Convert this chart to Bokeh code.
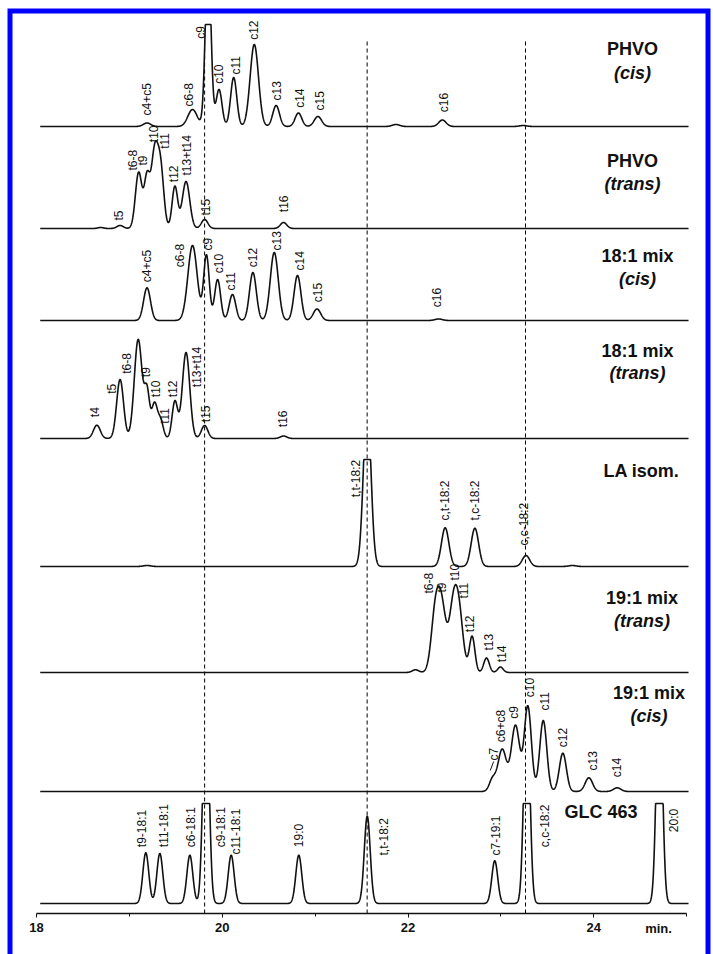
import numpy as np
from bokeh.plotting import figure
from bokeh.models import Range1d, FixedTicker, ColumnDataSource
from bokeh.core.properties import value
from bokeh.embed import file_html
from bokeh.resources import INLINE

# ---------------------------------------------------------------------------
# Retention-time axis (min)
X_TICKS = [18, 20, 22, 24]
X_MINOR = [19, 21, 23, 25]
T_FIRST, T_LAST = 18.04, 25.02

# Peak tables: retention time (min), peak height, peak sd (min)
PHVO_CIS_RT = [19.19, 19.68, 19.848, 19.965, 20.123, 20.345, 20.58, 20.82, 21.03, 21.87, 22.37, 23.24]
PHVO_CIS_H = [3.5, 17, 171, 37, 49, 82, 21, 13.5, 10, 2, 6.5, 1]
PHVO_CIS_SD = [0.04, 0.05, 0.03, 0.032, 0.033, 0.045, 0.036, 0.036, 0.04, 0.04, 0.04, 0.04]

PHVO_TRANS_RT = [18.69, 18.90, 19.10, 19.19, 19.27, 19.335, 19.49, 19.61, 19.81, 20.66]
PHVO_TRANS_H = [1, 3, 56, 50, 72, 60, 42, 47, 9, 6]
PHVO_TRANS_SD = [0.03, 0.035, 0.035, 0.03, 0.035, 0.035, 0.03, 0.04, 0.035, 0.035]

MIX181_CIS_RT = [19.19, 19.68, 19.83, 19.95, 20.11, 20.33, 20.56, 20.81, 21.02, 22.33]
MIX181_CIS_H = [32.7, 75, 65, 41, 26, 48, 68, 45, 11.5, 1.5]
MIX181_CIS_SD = [0.037, 0.05, 0.03, 0.032, 0.035, 0.037, 0.043, 0.037, 0.04, 0.04]

MIX181_TRANS_RT = [18.65, 18.90, 19.095, 19.19, 19.27, 19.335, 19.49, 19.61, 19.81, 20.66]
MIX181_TRANS_H = [13.3, 59, 99, 45, 34, 18, 37, 86, 13, 2.5]
MIX181_TRANS_SD = [0.037, 0.037, 0.042, 0.028, 0.03, 0.03, 0.03, 0.04, 0.035, 0.035]

LA_ISOM_RT = [19.19, 21.56, 22.40, 22.72, 23.27, 23.77]
LA_ISOM_H = [1, 165, 38.7, 38.3, 11, 1]
LA_ISOM_SD = [0.04, 0.04, 0.04, 0.04, 0.04, 0.04]

MIX191_TRANS_RT = [22.08, 22.296, 22.366, 22.486, 22.55, 22.69, 22.845, 22.995]
MIX191_TRANS_H = [2.7, 59.5, 57.4, 59.6, 53, 36, 14.5, 5.5]
MIX191_TRANS_SD = [0.035, 0.045, 0.045, 0.045, 0.045, 0.03, 0.03, 0.03]

MIX191_CIS_RT = [22.91, 23.014, 23.157, 23.29, 23.456, 23.667, 23.947, 24.252]
MIX191_CIS_H = [12, 42, 66, 85, 71, 38.3, 13.7, 3.7]
MIX191_CIS_SD = [0.035, 0.045, 0.045, 0.038, 0.038, 0.038, 0.04, 0.04]

GLC463_RT = [19.177, 19.328, 19.651, 19.825, 20.096, 20.824, 21.561, 22.934, 23.279, 24.706]
GLC463_H = [50.7, 50, 48.3, 220, 48.3, 48.3, 87.3, 42.7, 210, 228]
GLC463_SD = [0.032] * 10

# Peak annotations: text, retention time and height of the label foot
PHVO_CIS_LBL = ["c4+c5", "c6-8", "c9", "c10", "c11", "c12", "c13", "c14", "c15", "c16"]
PHVO_CIS_LBL_T = [19.192, 19.647, 19.766, 19.963, 20.143, 20.347, 20.584, 20.835, 21.05, 22.385]
PHVO_CIS_LBL_Y = [11, 20, 87.7, 42.7, 52, 86.7, 26, 18.7, 16, 14.3]

PHVO_TRANS_LBL = ["t5", "t6-8", "t9", "t10", "t11", "t12", "t13+t14", "t15", "t16"]
PHVO_TRANS_LBL_T = [18.886, 19.041, 19.149, 19.263, 19.381, 19.478, 19.623, 19.827, 20.663]
PHVO_TRANS_LBL_Y = [8, 58, 63, 86.3, 79.7, 46.3, 53, 13, 16.3]

MIX181_CIS_LBL = ["c4+c5", "c6-8", "c9", "c10", "c11", "c12", "c13", "c14", "c15", "c16"]
MIX181_CIS_LBL_T = [19.192, 19.55, 19.844, 19.963, 20.089, 20.329, 20.584, 20.835, 21.033, 22.307]
MIX181_CIS_LBL_Y = [38.3, 53.3, 70, 47.3, 30, 53.3, 70, 50, 18.3, 13.3]

MIX181_TRANS_LBL = ["t4", "t5", "t6-8", "t9", "t10", "t11", "t12", "t13+t14", "t15", "t16"]
MIX181_TRANS_LBL_T = [18.635, 18.815, 18.977, 19.184, 19.289, 19.381, 19.472, 19.73, 19.827, 20.656]
MIX181_TRANS_LBL_Y = [21.3, 44.7, 64.7, 61.3, 41.3, 14.7, 41.3, 51.3, 16.3, 11.3]

LA_ISOM_LBL = ["t,t-18:2", "c,t-18:2", "t,c-18:2", "c,c-18:2"]
LA_ISOM_LBL_T = [21.435, 22.396, 22.716, 23.247]
LA_ISOM_LBL_Y = [69.3, 46, 46, 21]

MIX191_TRANS_LBL = ["t6-8", "t9", "t10", "t11", "t12", "t13", "t14"]
MIX191_TRANS_LBL_T = [22.231, 22.361, 22.511, 22.608, 22.665, 22.87, 23.014]
MIX191_TRANS_LBL_Y = [79, 80, 92, 74, 40.3, 22, 10.3]

MIX191_CIS_LBL = ["c7", "c6+c8", "c9", "c10", "c11", "c12", "c13", "c14"]
MIX191_CIS_LBL_T = [22.924, 22.996, 23.139, 23.308, 23.48, 23.667, 23.994, 24.255]
MIX191_CIS_LBL_Y = [31, 49.3, 72.7, 94.3, 81, 44.3, 21, 14.3]

GLC463_LBL = ["t9-18:1", "t11-18:1", "c6-18:1", "c9-18:1", "c11-18:1", "19:0",
              "t,t-18:2", "c7-19:1", "c,c-18:2", "20:0"]
GLC463_LBL_T = [19.138, 19.371, 19.666, 19.989, 20.153, 20.824, 21.739, 22.942, 23.48, 24.862]
GLC463_LBL_Y = [56.3, 56.3, 56.3, 56.3, 49, 56.3, 48, 48, 56.3, 71.3]

# Retention times of the reference peaks marked across all traces
REF_RT = [19.81, 21.56, 23.265]

# ---------------------------------------------------------------------------
# Stacked layout: baseline of each trace, detector clip level, sample name
TRACES = [
    (PHVO_CIS_RT, PHVO_CIS_H, PHVO_CIS_SD, PHVO_CIS_LBL, PHVO_CIS_LBL_T, PHVO_CIS_LBL_Y,
     828, 102, ["PHVO", "(cis)"], 24.417, [77.5, 54]),
    (PHVO_TRANS_RT, PHVO_TRANS_H, PHVO_TRANS_SD, PHVO_TRANS_LBL, PHVO_TRANS_LBL_T, PHVO_TRANS_LBL_Y,
     726, None, ["PHVO", "(trans)"], 24.417, [68, 45]),
    (MIX181_CIS_RT, MIX181_CIS_H, MIX181_CIS_SD, MIX181_CIS_LBL, MIX181_CIS_LBL_T, MIX181_CIS_LBL_Y,
     634, None, ["18:1 mix", "(cis)"], 24.471, [65, 42]),
    (MIX181_TRANS_RT, MIX181_TRANS_H, MIX181_TRANS_SD, MIX181_TRANS_LBL, MIX181_TRANS_LBL_T,
     MIX181_TRANS_LBL_Y, 516, None, ["18:1 mix", "(trans)"], 24.471, [88, 66]),
    (LA_ISOM_RT, LA_ISOM_H, LA_ISOM_SD, LA_ISOM_LBL, LA_ISOM_LBL_T, LA_ISOM_LBL_Y,
     388, 107, ["LA isom."], 24.514, [96]),
    (MIX191_TRANS_RT, MIX191_TRANS_H, MIX191_TRANS_SD, MIX191_TRANS_LBL, MIX191_TRANS_LBL_T,
     MIX191_TRANS_LBL_Y, 282, None, ["19:1 mix", "(trans)"], 24.52, [75, 52]),
    (MIX191_CIS_RT, MIX191_CIS_H, MIX191_CIS_SD, MIX191_CIS_LBL, MIX191_CIS_LBL_T, MIX191_CIS_LBL_Y,
     163, None, ["19:1 mix", "(cis)"], 24.595, [99, 76]),
    (GLC463_RT, GLC463_H, GLC463_SD, GLC463_LBL, GLC463_LBL_T, GLC463_LBL_Y,
     51, 100, ["GLC 463"], 24.078, [92]),
]
AXIS_Y = 41
TOP_Y = 914

W, H = 713, 954
PX_PER_MIN = 92.88
x_lo = 18 - 36 / PX_PER_MIN

FONT = "Liberation Sans"
INK = "#111111"


def chromatogram(rt, h, sd, t, clip):
    y = np.zeros_like(t)
    for r, a, s in zip(rt, h, sd):
        y += a * np.exp(-0.5 * ((t - r) / s) ** 2)
    if clip is not None:
        y = np.minimum(y, clip)
    return y


def canvas_x(px):
    return x_lo + px / PX_PER_MIN


def canvas_y(py):
    return H - py


p = figure(width=W, height=H, x_range=Range1d(x_lo, x_lo + W / PX_PER_MIN),
           y_range=Range1d(0, H), output_backend="svg", toolbar_location=None,
           min_border=0, y_axis_location=None, outline_line_color=None,
           background_fill_color="white", border_fill_color="white")
p.grid.grid_line_color = None

# reference retention times
for rt in REF_RT:
    p.line([rt, rt], [AXIS_Y, TOP_Y], line_color="black", line_width=1, line_dash="4 3")

t = np.linspace(T_FIRST, T_LAST, 3000)
for (rt, h, sd, lbl, lbl_t, lbl_y, base, clip, name, name_t, name_dy) in TRACES:
    y = chromatogram(rt, h, sd, t, clip) + base
    p.line(t, y, line_color=INK, line_width=1.6)

    src = ColumnDataSource(dict(x=lbl_t, y=[base + v for v in lbl_y], text=lbl))
    p.text(x="x", y="y", text="text", source=src, angle=np.pi / 2,
           text_align="left", text_baseline="middle", text_color=INK,
           text_font=value(FONT), text_font_size="12px")

    for i, line in enumerate(name):
        style = "bold italic" if line.startswith("(") else "bold"
        p.text(x=[name_t], y=[base + name_dy[i]], text=[line], text_align="center",
               text_baseline="middle", text_color=INK, text_font=value(FONT),
               text_font_size="18px", text_font_style=style)

# leader stroke under the c7 label of the 19:1 cis trace
p.segment(x0=[22.885], y0=[163 + 21], x1=[22.922], y1=[163 + 30], line_color=INK, line_width=1)

# retention-time axis drawn inside the frame
ax = p.xaxis[0]
ax.fixed_location = AXIS_Y
ax.bounds = (18, 25)
ax.ticker = FixedTicker(ticks=X_TICKS, minor_ticks=X_MINOR)
ax.axis_line_color = INK
ax.axis_line_width = 1.3
ax.major_tick_line_color = INK
ax.minor_tick_line_color = INK
ax.major_tick_out = 4
ax.major_tick_in = 0
ax.minor_tick_out = 3
ax.minor_tick_in = 0
ax.major_label_standoff = 5
ax.major_label_text_font = FONT
ax.major_label_text_font_size = "13px"
ax.major_label_text_font_style = "bold"
ax.major_label_text_color = INK

p.text(x=[24.697], y=[26], text=["min."], text_align="center", text_baseline="middle",
       text_color=INK, text_font=value(FONT), text_font_size="13px", text_font_style="bold")

# page frame (left, top and right edges; the bottom runs off the page)
p.line([canvas_x(9.5), canvas_x(9.5), canvas_x(707.5), canvas_x(707.5)],
       [canvas_y(990), canvas_y(10.5), canvas_y(10.5), canvas_y(990)],
       line_color="#0000ff", line_width=5, line_join="miter")

open("out.html", "w").write(file_html(p, INLINE))
